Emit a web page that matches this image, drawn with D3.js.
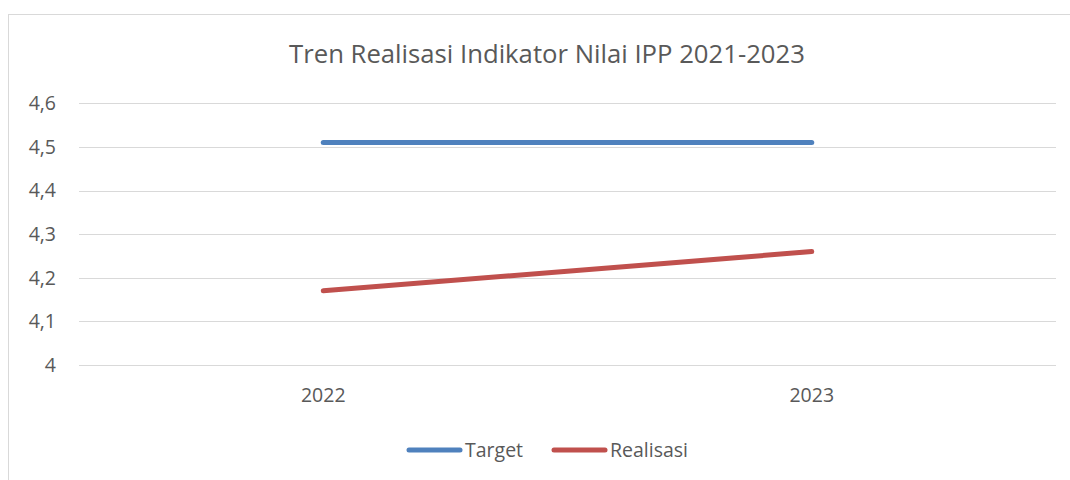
<!DOCTYPE html>
<html><head><meta charset="utf-8">
<script src="https://cdn.jsdelivr.net/npm/d3@7"></script>
<style>body{margin:0;background:#fff}svg{display:block}text{font-family:"Open Sans",sans-serif;fill:#595959}</style>
</head><body>
<svg id="c" width="1070" height="480"></svg>
<script>
const categories = ["2022", "2023"];
const targetValues = [4.51, 4.51];
const realisasiValues = [4.17, 4.26];
const yTicks = [4, 4.1, 4.2, 4.3, 4.4, 4.5, 4.6];
const seriesNames = ["Target", "Realisasi"];
const seriesColors = ["#4f81bd", "#c0504d"];
const title = "Tren Realisasi Indikator Nilai IPP 2021-2023";

const svg = d3.select("#c");
const m = {left: 79, right: 1056, top: 103.3, bottom: 365};
const fs = "19.5px";

// chart border
svg.append("rect").attr("x", 8.5).attr("y", 14.5).attr("width", 1080).attr("height", 500)
  .attr("fill", "none").attr("stroke", "#d9d9d9").attr("stroke-width", 1);

const x = d3.scaleBand().domain(categories).range([m.left, m.right]);
const y = d3.scaleLinear().domain([4, 4.6]).range([m.bottom, m.top]);
const fmt = d => d3.format(".1f")(d).replace(".", ",").replace(",0", "");

// gridlines
svg.append("g").selectAll("line").data(yTicks).join("line")
  .attr("x1", m.left).attr("x2", m.right)
  .attr("y1", d => Math.round(y(d)) + 0.5).attr("y2", d => Math.round(y(d)) + 0.5)
  .attr("stroke", "#d9d9d9").attr("stroke-width", 1);

// y axis labels
const yAxis = d3.axisLeft(y).tickValues(yTicks).tickFormat(fmt).tickSize(0).tickPadding(0);
const gy = svg.append("g").attr("transform", "translate(56,0)").call(yAxis);
gy.select(".domain").remove();
gy.selectAll("text").style("font-size", fs).attr("fill", "#595959").style("font-family", '"Open Sans",sans-serif');

// x axis labels
const xAxis = d3.axisBottom(x).tickSize(0).tickPadding(0);
const gx = svg.append("g").attr("transform", "translate(0,388)").call(xAxis);
gx.select(".domain").remove();
gx.selectAll("text").style("font-size", fs).attr("fill", "#595959").style("font-family", '"Open Sans",sans-serif');

// lines
const line = d3.line().x((d, i) => x(categories[i]) + x.bandwidth() / 2).y(d => y(d));
[targetValues, realisasiValues].forEach((vals, i) => {
  svg.append("path").datum(vals).attr("d", line).attr("fill", "none")
    .attr("stroke", seriesColors[i]).attr("stroke-width", 5).attr("stroke-linecap", "round");
});

// title
const t = svg.append("text").attr("x", 547).attr("y", 63).attr("text-anchor", "middle")
  .style("font-size", "22px").text(title);
const tw = t.node().getComputedTextLength();
t.style("font-size", (22 * 516 / tw) + "px");

// legend
const legX = [407, 552];
seriesNames.forEach((n, i) => {
  svg.append("line").attr("x1", legX[i] + 2).attr("x2", legX[i] + 53).attr("y1", 450).attr("y2", 450)
    .attr("stroke", seriesColors[i]).attr("stroke-width", 5).attr("stroke-linecap", "round");
  svg.append("text").attr("x", legX[i] + 58).attr("y", 457).style("font-size", fs).text(n);
});
</script>
</body></html>
